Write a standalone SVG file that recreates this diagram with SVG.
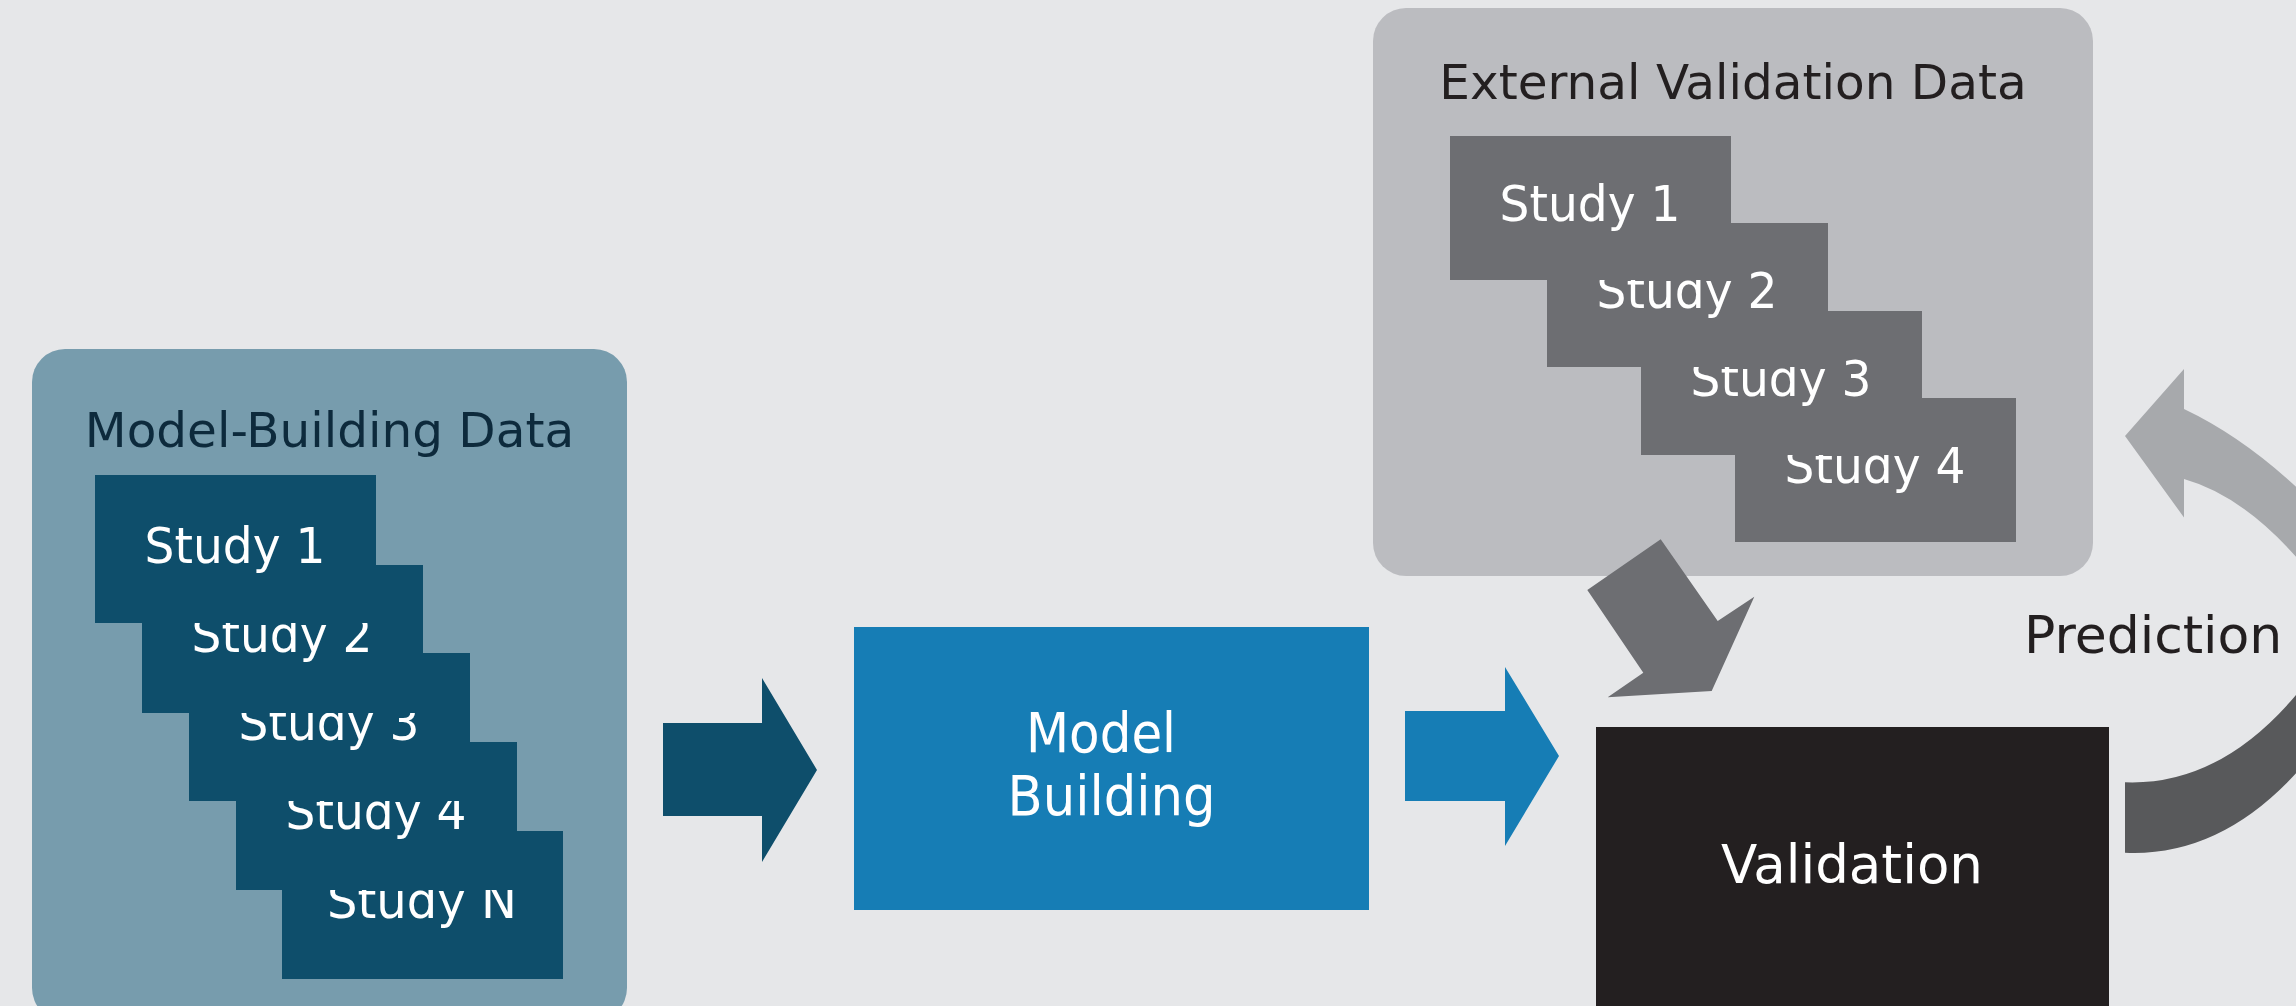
<svg xmlns="http://www.w3.org/2000/svg" width="2296" height="1006" viewBox="0 0 2296 1006">
  <style>
    .lbl { font-family: "DejaVu Sans", Verdana, sans-serif; }
    .title { font-size: 48.5px; text-anchor: middle; }
    .study { font-size: 50px; fill: #ffffff; text-anchor: middle; }
    .mb-study { fill: #0e4e6b; }
    .ev-study { fill: #6d6e72; }
    .big { fill: #ffffff; text-anchor: middle; }
  </style>

  <!-- canvas -->
  <rect x="0" y="0" width="2296" height="1006" fill="#e6e7e9"/>

  <!-- Model-building data panel -->
  <g id="model-building-data">
    <rect x="32" y="349" width="595" height="672" rx="33" ry="33" fill="#779cad"/>
    <text class="lbl title" x="329.5" y="447" fill="#0d2a3c">Model-Building Data</text>
    <!-- stacked studies: later cards sit underneath earlier ones -->
    <g id="mb-study-n">
      <rect class="mb-study" x="282" y="831" width="281" height="148"/>
      <text class="lbl study" x="422" y="918" textLength="190" lengthAdjust="spacingAndGlyphs">Study N</text>
    </g>
    <g id="mb-study-4">
      <rect class="mb-study" x="236" y="742" width="281" height="148"/>
      <text class="lbl study" x="376" y="829" textLength="181" lengthAdjust="spacingAndGlyphs">Study 4</text>
    </g>
    <g id="mb-study-3">
      <rect class="mb-study" x="189" y="653" width="281" height="148"/>
      <text class="lbl study" x="329" y="740" textLength="181" lengthAdjust="spacingAndGlyphs">Study 3</text>
    </g>
    <g id="mb-study-2">
      <rect class="mb-study" x="142" y="565" width="281" height="148"/>
      <text class="lbl study" x="282" y="652" textLength="181" lengthAdjust="spacingAndGlyphs">Study 2</text>
    </g>
    <g id="mb-study-1">
      <rect class="mb-study" x="95" y="475" width="281" height="148"/>
      <text class="lbl study" x="235" y="563" textLength="181" lengthAdjust="spacingAndGlyphs">Study 1</text>
    </g>
  </g>

  <!-- Model building step -->
  <g id="model-building">
    <rect x="854" y="627" width="515" height="283" fill="#167db5"/>
    <text class="lbl big" font-size="55" x="1101" y="752" textLength="150" lengthAdjust="spacingAndGlyphs">Model</text>
    <text class="lbl big" font-size="55" x="1111.5" y="815" textLength="208" lengthAdjust="spacingAndGlyphs">Building</text>
  </g>

  <!-- External validation data panel -->
  <g id="external-validation-data">
    <rect x="1373" y="8" width="720" height="568" rx="33" ry="33" fill="#bbbcc0"/>
    <text class="lbl title" x="1733" y="99" fill="#231f20">External Validation Data</text>
    <g id="ev-study-4">
      <rect class="ev-study" x="1735" y="398" width="281" height="144"/>
      <text class="lbl study" x="1875" y="483" textLength="181" lengthAdjust="spacingAndGlyphs">Study 4</text>
    </g>
    <g id="ev-study-3">
      <rect class="ev-study" x="1641" y="311" width="281" height="144"/>
      <text class="lbl study" x="1781" y="396" textLength="181" lengthAdjust="spacingAndGlyphs">Study 3</text>
    </g>
    <g id="ev-study-2">
      <rect class="ev-study" x="1547" y="223" width="281" height="144"/>
      <text class="lbl study" x="1687" y="308" textLength="181" lengthAdjust="spacingAndGlyphs">Study 2</text>
    </g>
    <g id="ev-study-1">
      <rect class="ev-study" x="1450" y="136" width="281" height="144"/>
      <text class="lbl study" x="1590" y="221" textLength="181" lengthAdjust="spacingAndGlyphs">Study 1</text>
    </g>
  </g>

  <!-- Validation step -->
  <g id="validation">
    <rect x="1596" y="727" width="513" height="300" fill="#231f20"/>
    <text class="lbl big" font-size="54" x="1852" y="883" textLength="262" lengthAdjust="spacingAndGlyphs">Validation</text>
  </g>

  <!-- Prediction label -->
  <g id="prediction">
    <text class="lbl" font-size="52" x="2024" y="653" fill="#231f20">Prediction</text>
  </g>

  <!-- block arrows between stages -->
  <g id="connectors">
    <polygon fill="#0e4e6b" points="663,723 762,723 762,678 817,770 762,862 762,816 663,816"/>
    <polygon fill="#167db5" points="1405,711 1505,711 1505,667 1559,756 1505,846 1505,801 1405,801"/>
    <polygon fill="#6d6e72" points="1660.7,539.3 1587.3,590 1643.3,672.7 1607.7,697.3 1711.7,691 1754.3,596.7 1717.7,621"/>
    <!-- feedback loop: lower dark band leaving validation -->
    <path fill="#58595b" d="M2125,782.3 Q2219,786 2296,695 L2335,640 L2345,735 L2296,773.3 Q2219,857 2125,852.7 Z"/>
    <!-- feedback loop: upper light band ending in an arrowhead -->
    <path fill="#a7a9ac" d="M2184,409 L2184,369 L2125,436 L2184,517.5 L2184,479 Q2241,495 2296,556.7 L2335,610 L2340,530 L2296,486.7 Q2241,436 2184,409 Z"/>
  </g>
</svg>
